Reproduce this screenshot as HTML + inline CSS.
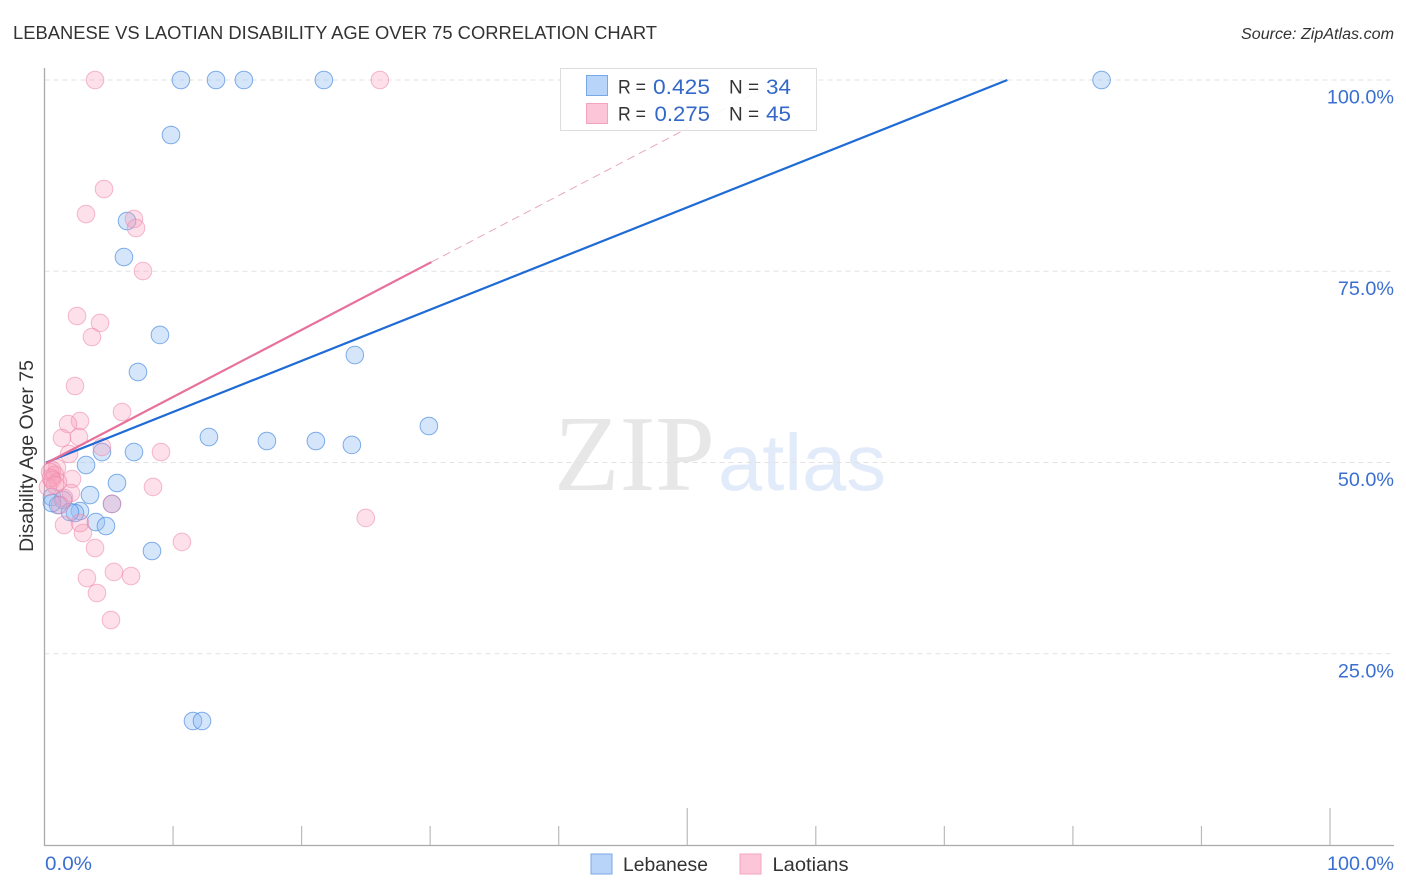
<!DOCTYPE html>
<html>
<head>
<meta charset="utf-8">
<style>
html,body{margin:0;padding:0;background:#fff;}
svg{display:block;font-family:"Liberation Sans",sans-serif;}
</style>
</head>
<body>
<svg id="chart" width="1406" height="892" viewBox="0 0 1406 892" xmlns="http://www.w3.org/2000/svg">
  <text x="13" y="39" font-size="18" fill="#333" textLength="644" lengthAdjust="spacingAndGlyphs">LEBANESE VS LAOTIAN DISABILITY AGE OVER 75 CORRELATION CHART</text>
  <text x="1241" y="39" font-size="15.5" font-style="italic" fill="#333" textLength="153" lengthAdjust="spacingAndGlyphs">Source: ZipAtlas.com</text>
  <text x="554" y="490" font-size="108" fill="#e7e7e7" font-family="'Liberation Serif',serif" textLength="161" lengthAdjust="spacingAndGlyphs">ZIP</text>
  <text x="718" y="490" font-size="80" fill="#e2ebf9" textLength="168" lengthAdjust="spacingAndGlyphs">atlas</text>
  <g id="grid"></g>
  <g id="axes"></g>
  <g id="points"></g>
  <g id="lines"></g>
  <g>
    <rect x="560.5" y="68.5" width="256" height="62" fill="#fff" fill-opacity="0.88" stroke="#ddd"/>
    <rect x="586.5" y="75.5" width="21" height="20" fill="#b8d4f8" stroke="#78a8e8"/>
    <rect x="586.5" y="103.5" width="21" height="20" fill="#fcc6d8" stroke="#f4a4bf"/>
    <text x="618" y="93.5" font-size="19.5" fill="#333" textLength="28" lengthAdjust="spacingAndGlyphs">R =</text>
    <text x="653" y="94" font-size="21" fill="#3468c8" textLength="57" lengthAdjust="spacingAndGlyphs">0.425</text>
    <text x="729" y="93.5" font-size="19.5" fill="#333" textLength="30" lengthAdjust="spacingAndGlyphs">N =</text>
    <text x="766" y="94" font-size="21" fill="#3468c8" textLength="25" lengthAdjust="spacingAndGlyphs">34</text>
    <text x="618" y="120.5" font-size="19.5" fill="#333" textLength="28" lengthAdjust="spacingAndGlyphs">R =</text>
    <text x="654.5" y="121" font-size="21" fill="#3468c8" textLength="55.5" lengthAdjust="spacingAndGlyphs">0.275</text>
    <text x="729" y="120.5" font-size="19.5" fill="#333" textLength="30" lengthAdjust="spacingAndGlyphs">N =</text>
    <text x="766" y="121" font-size="21" fill="#3468c8" textLength="25" lengthAdjust="spacingAndGlyphs">45</text>
  </g>
  <text transform="translate(33,456) rotate(-90)" font-size="19.5" fill="#333" text-anchor="middle">Disability Age Over 75</text>
  <text x="45" y="870" font-size="19.5" fill="#3a6fd0" textLength="47" lengthAdjust="spacingAndGlyphs">0.0%</text>
  <text x="1327" y="870" font-size="19.5" fill="#3a6fd0" textLength="67" lengthAdjust="spacingAndGlyphs">100.0%</text>
  <g>
    <rect x="591" y="854" width="21" height="20" fill="#b8d4f8" stroke="#78a8e8"/>
    <text x="623" y="871" font-size="19.5" fill="#333" textLength="85" lengthAdjust="spacingAndGlyphs">Lebanese</text>
    <rect x="740" y="854" width="21" height="20" fill="#fcc6d8" stroke="#f4a4bf"/>
    <text x="772.5" y="871" font-size="19.5" fill="#333" textLength="76" lengthAdjust="spacingAndGlyphs">Laotians</text>
  </g>
</svg>
<script>
const yTicks = [100, 75, 50, 25];
const yTickLabels = ["100.0%", "75.0%", "50.0%", "25.0%"];
const xTicks = [10, 20, 30, 40, 50, 60, 70, 80, 90, 100];
const xMajorTicks = [50, 100];
const lebaneseX = [10.61, 13.34, 15.51, 21.73, 82.23, 9.84, 6.42, 6.18, 8.98, 24.14, 7.27, 29.9, 12.79, 17.3, 21.11, 23.91, 6.96, 4.47, 3.23, 5.64, 3.54, 0.58, 1.44, 1.05, 2.76, 2.37, 1.98, 4.0, 4.78, 8.36, 11.55, 12.25, 5.25, 0.58];
const lebaneseY = [100, 100, 100, 100, 100, 92.81, 81.57, 76.86, 66.67, 64.05, 61.83, 54.77, 53.33, 52.81, 52.81, 52.29, 51.37, 51.37, 49.67, 47.32, 45.75, 45.49, 45.1, 44.44, 43.66, 43.4, 43.53, 42.22, 41.7, 38.43, 16.21, 16.21, 44.58, 44.7];
const laotianX = [3.93, 26.09, 4.63, 3.23, 6.96, 7.12, 7.66, 2.53, 4.32, 3.69, 2.37, 6.03, 2.76, 1.83, 1.36, 2.68, 4.47, 1.91, 9.06, 8.44, 10.69, 24.99, 2.14, 2.06, 1.52, 2.99, 2.76, 3.93, 5.4, 6.73, 3.3, 4.08, 5.17, 5.25, 0.97, 0.58, 0.43, 0.82, 0.58, 1.05, 0.27, 0.5, 0.82, 1.52, 1.2];
const laotianY = [100, 100, 85.75, 82.48, 81.83, 80.65, 75.03, 69.15, 68.24, 66.4, 60.0, 56.6, 55.42, 55.03, 53.2, 53.33, 52.03, 51.11, 51.37, 46.8, 39.61, 42.75, 47.84, 46.01, 41.83, 40.78, 42.09, 38.82, 35.69, 35.16, 34.9, 32.94, 29.41, 44.58, 49.28, 49.02, 48.76, 48.37, 47.71, 47.45, 46.8, 47.97, 47.06, 45.36, 44.44];
const lebaneseTrendX = [0.12, 74.9];
const lebaneseTrendY = [50.0, 100];
const laotianTrendX = [0.12, 30.1];
const laotianTrendY = [49.9, 76.2];
const laotianTrendExtX = [30.1, 57.2];
const laotianTrendExtY = [76.2, 100];

const NS = 'http://www.w3.org/2000/svg';
const xPos = function (v) { return 44.5 + v * 12.855; };
const yPos = function (v) { return 845 - v * 7.65; };

function make(tag, attrs, parent) {
  const el = document.createElementNS(NS, tag);
  Object.keys(attrs).forEach(function (k) { el.setAttribute(k, attrs[k]); });
  parent.appendChild(el);
  return el;
}

const grid = document.getElementById('grid');
const axes = document.getElementById('axes');
const points = document.getElementById('points');
const lines = document.getElementById('lines');

yTicks.forEach(function (t, i) {
  const g = make('line', {x1: 44.5, x2: 1394, y1: yPos(t), y2: yPos(t), stroke: '#e2e2e2', 'stroke-width': 1, 'stroke-dasharray': '5 4'}, grid);
  
  
  const l = make('text', {x: 1394, y: yPos(t) + 23.5, 'font-size': 19.8, fill: '#3a6fd0', 'text-anchor': 'end'}, axes);
  l.textContent = yTickLabels[i];
  
  
});

const yAxis = make('line', {x1: 44.5, x2: 44.5, y1: 68, y2: 846, stroke: '#aaa', 'stroke-width': 1.3}, axes);


const xAxis = make('line', {x1: 44, x2: 1394, y1: 845.5, y2: 845.5, stroke: '#aaa', 'stroke-width': 1.3}, axes);



xTicks.forEach(function (t) {
  const top = xMajorTicks.indexOf(t) >= 0 ? 808 : 826;
  const m = make('line', {x1: xPos(t), x2: xPos(t), y1: top, y2: 845, stroke: '#bbb', 'stroke-width': 1.2}, axes);
  
  
});

lebaneseX.forEach(function (v, i) {
  const c = make('circle', {cx: xPos(v), cy: yPos(lebaneseY[i]), r: 8.8, fill: '#90bcf4', 'fill-opacity': 0.38, stroke: '#4f8de0', 'stroke-opacity': 0.7, 'stroke-width': 1}, points);
  
  
});

laotianX.forEach(function (v, i) {
  const c = make('circle', {cx: xPos(v), cy: yPos(laotianY[i]), r: 8.8, fill: '#f8a0bc', 'fill-opacity': 0.33, stroke: '#ec84a8', 'stroke-opacity': 0.55, 'stroke-width': 1}, points);
  
  
});

const ext = make('line', {x1: xPos(laotianTrendExtX[0]), y1: yPos(laotianTrendExtY[0]), x2: xPos(laotianTrendExtX[1]), y2: yPos(laotianTrendExtY[1]), stroke: '#e8a8bc', 'stroke-width': 1, 'stroke-dasharray': '8 5'}, lines);


const blueTrend = make('line', {x1: xPos(lebaneseTrendX[0]), y1: yPos(lebaneseTrendY[0]), x2: xPos(lebaneseTrendX[1]), y2: yPos(lebaneseTrendY[1]), stroke: '#1f6bd6', 'stroke-width': 2.2}, lines);


const pinkTrend = make('line', {x1: xPos(laotianTrendX[0]), y1: yPos(laotianTrendY[0]), x2: xPos(laotianTrendX[1]), y2: yPos(laotianTrendY[1]), stroke: '#e8709c', 'stroke-width': 2.2}, lines);


</script>
</body>
</html>
